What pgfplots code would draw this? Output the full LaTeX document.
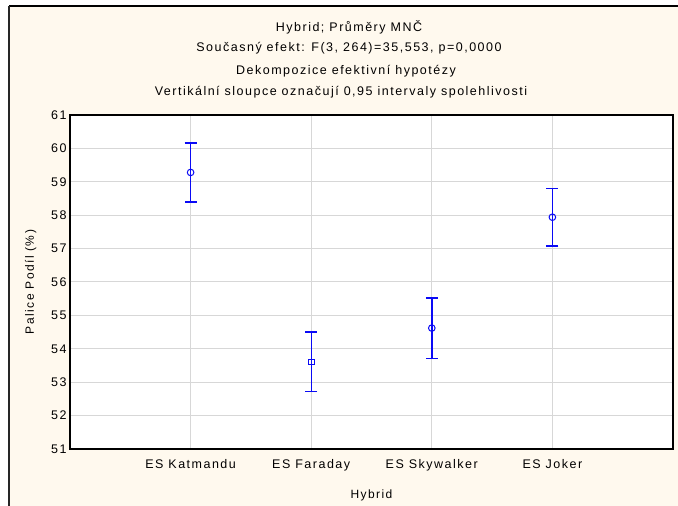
\documentclass[border=0pt]{standalone}
\usepackage{pgfplots}
\pgfplotsset{compat=1.18}
\usepackage{fontspec}
\setmainfont{Liberation Sans}[LetterSpace=12]
\definecolor{cream}{RGB}{255,249,238}
\definecolor{gridc}{RGB}{215,215,215}
\definecolor{ebblue}{RGB}{10,10,245}
\begin{document}
\begin{tikzpicture}
\useasboundingbox (0bp,0bp) rectangle (678bp,506bp);
\fill[white] (0bp,0bp) rectangle (678bp,506bp);
\fill[cream] (9bp,0bp) rectangle (678bp,500bp);
\draw[black,line width=2bp] (9bp,500bp) -- (678bp,500bp);
\draw[black!85,line width=1.3bp] (9bp,500bp) -- (9bp,0bp);
\node[font=\fontsize{12.5bp}{14bp}\selectfont] at (349bp,479bp) {Hybrid; Průměry MNČ};
\node[font=\fontsize{12.5bp}{14bp}\selectfont] at (349bp,458bp) {Současný efekt: F(3, 264)=35,553, p=0,0000};
\node[font=\fontsize{12.5bp}{14bp}\selectfont] at (346bp,435bp) {Dekompozice efektivní hypotézy};
\node[font=\fontsize{12.5bp}{14bp}\selectfont] at (341bp,414bp) {Vertikální sloupce označují 0,95 intervaly spolehlivosti};
\begin{axis}[
  at={(70bp,57bp)}, anchor=south west,
  scale only axis, width=603bp, height=334bp,
  xmin=0, xmax=5, ymin=51, ymax=61,
  xtick={1,2,3,4},
  xticklabels={ES Katmandu, ES Faraday, ES Skywalker, ES Joker},
  ytick={51,52,...,61},
  grid=major,
  major grid style={gridc, line width=1bp},
  axis background/.style={fill=white},
  axis line style={black, line width=1.2bp},
  tick style={draw=none},
  tick label style={font=\fontsize{12.5bp}{14bp}\selectfont},
  /pgf/number format/assume math mode=true,
  xlabel={Hybrid},
  ylabel={Palice Podíl (\%)},
  label style={font=\fontsize{12bp}{14bp}\selectfont},
  xticklabel style={yshift=-7bp},
  xlabel style={yshift=-12bp},
  ylabel style={yshift=8bp},
  clip=false,
]
\addplot[ebblue, line width=1.4bp, only marks, mark=o, mark size=3.3bp,
  mark options={line width=1bp, draw=ebblue},
  error bars/.cd, y dir=both, y explicit,
  error bar style={line width=1.4bp, draw=ebblue},
  error mark options={rotate=90, mark size=6bp, line width=1.7bp, draw=ebblue}]
  coordinates {(1,59.28) +- (0,0.88) (3,54.62) +- (0,0.91) (4,57.94) +- (0,0.86)};
\addplot[ebblue, line width=1.4bp, only marks, mark=square, mark size=2.8bp,
  mark options={line width=1bp, draw=ebblue},
  error bars/.cd, y dir=both, y explicit,
  error bar style={line width=1.4bp, draw=ebblue},
  error mark options={rotate=90, mark size=6bp, line width=1.7bp, draw=ebblue}]
  coordinates {(2,53.61) +- (0,0.89)};
\end{axis}
\end{tikzpicture}
\end{document}
